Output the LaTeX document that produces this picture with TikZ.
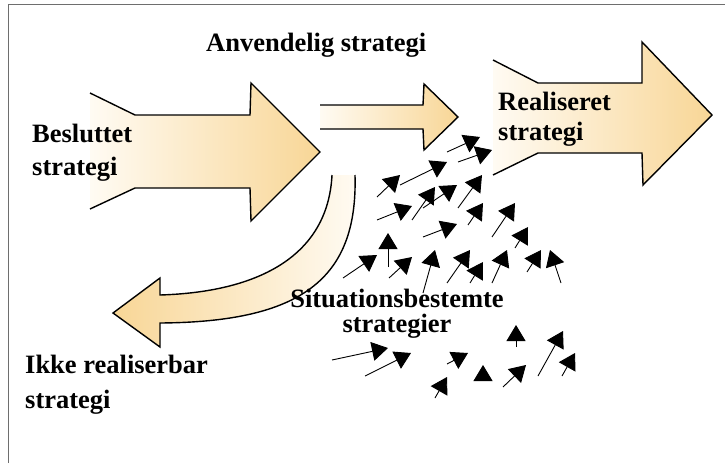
\documentclass[tikz,border=0pt]{standalone}
\usepackage{fontspec}
\setmainfont{Liberation Serif}
\definecolor{arrlight}{RGB}{255,251,243}
\definecolor{arrdark}{RGB}{248,214,150}
\definecolor{framegray}{RGB}{110,110,110}
\usetikzlibrary{arrows.meta}

\begin{document}
\begin{tikzpicture}[x=1pt,y=-1pt,
  lbl/.style={font={\bfseries\fontsize{26.5}{#1}\selectfont},align=left,inner sep=0pt,anchor=base west},
  bigfill/.style={left color=arrlight,right color=arrdark},
  bigline/.style={line width=1.4pt,line join=miter},
  sarrow/.style={-{Triangle[length=16pt,width=19pt]},line width=0.9pt}]
  \useasboundingbox (0,0) rectangle (725,463);
  % frame
  \draw[framegray,line width=0.8pt] (8,463) -- (8,4) -- (725,4);
  % big arrows, left edge left open
  \draw[bigfill,bigline] (90,93) -- (135,115) -- (250,115) -- (251,83) -- (320,152)
    -- (251,221) -- (250,188) -- (135,188) -- (90,209);
  \draw[bigfill,bigline] (320,105) -- (423,105) -- (424,84) -- (458,117)
    -- (424,150) -- (423,129) -- (320,129);
  \draw[bigfill,bigline] (493,60) -- (538,83) -- (642,83) -- (642,42) -- (712,115)
    -- (643,185) -- (642,153) -- (538,153) -- (493,175);
  % curved arrow
  \draw[left color=arrdark,right color=arrlight,bigline] (332,175)
    .. controls (328,255) and (260,292) .. (160,295) -- (160,278) -- (113,313)
    -- (160,347) -- (160,323) .. controls (300,322) and (358,280) .. (355,175);
  % labels (anchored on the last line)
  \node[lbl=33] (decided) at (32,175) {Besluttet\\strategi};
  \node[lbl=30] (applicable) at (206,51) {Anvendelig strategi};
  \node[lbl=30] (realised) at (498,140) {Realiseret\\strategi};
  \node[lbl=35] (unrealisable) at (25,408) {Ikke realiserbar\\strategi};
  \node[lbl=25,align=center,anchor=base] (emergent) at (397,332) {Situationsbestemte\\strategier};
  % emergent small arrows
  \foreach \xa/\ya/\xb/\yb in {447/152/480/137, 458/162/492/150, 377/197/400/175,
      400/185/447/162, 458/208/482/175, 412/220/435/187, 423/208/457/185,
      377/220/412/206, 468/225/483/203, 492/237/515/203, 423/237/457/224,
      388/267/388/233, 515/248/528/227, 343/278/377/255, 389/278/412/257,
      423/293/435/250, 447/283/470/250, 470/283/483/262, 492/283/507/250,
      527/272/541/250, 561/283/550/250, 332/360/388/348, 365/376/411/353,
      447/364/468/353, 483/378/483/365, 516/347/516/325, 435/398/447/377,
      503/387/526/365, 538/376/563/331, 562/376/575/353}
    \draw[sarrow] (\xa,\ya) -- (\xb,\yb);
\end{tikzpicture}
\end{document}
